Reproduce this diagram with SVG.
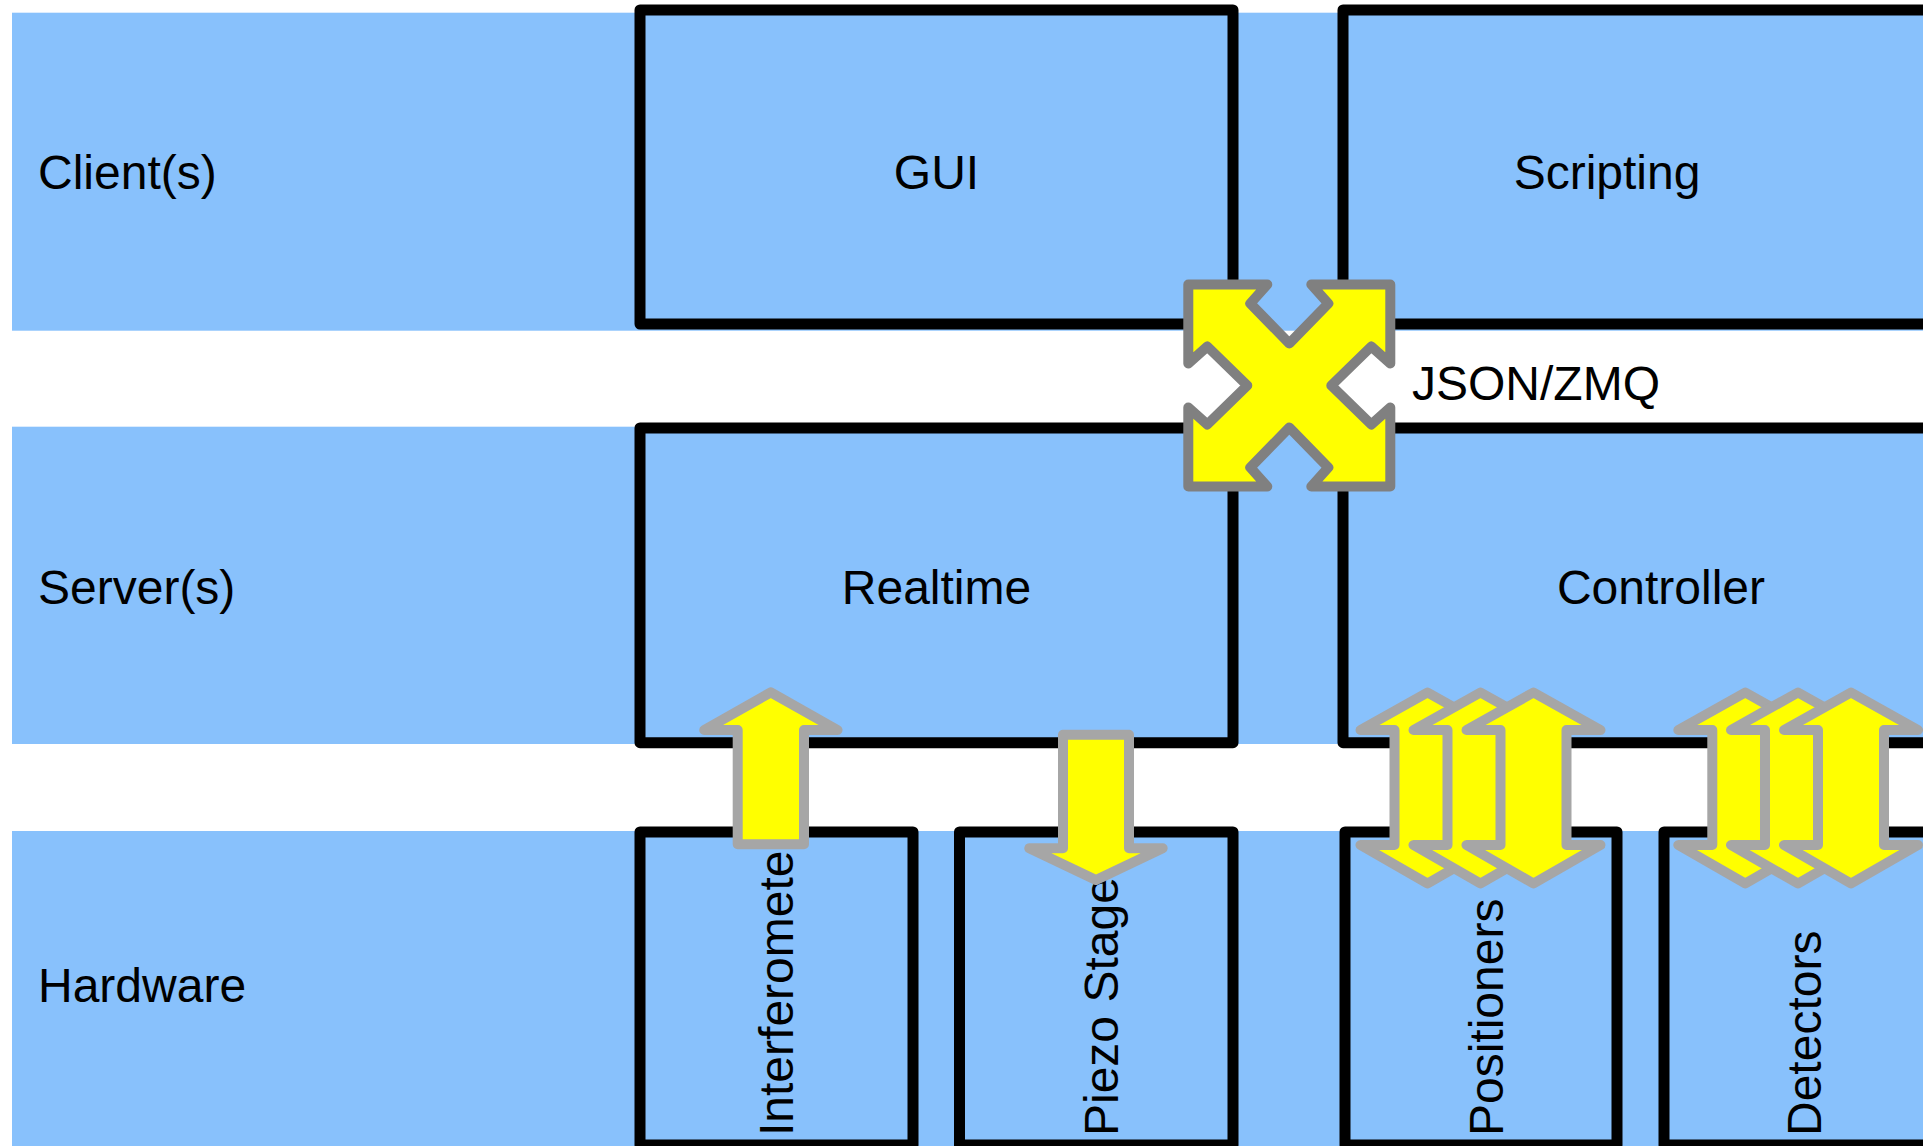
<svg xmlns="http://www.w3.org/2000/svg" xmlns:xlink="http://www.w3.org/1999/xlink" width="1923" height="1146" viewBox="0 0 1923 1146">
<style>
.band{fill:#88c1fc;stroke:none}
.box{fill:#88c1fc;stroke:#000;stroke-width:11;stroke-linejoin:round}
.lbl{font-family:"Liberation Sans",Arial,sans-serif;font-size:48px;fill:#000}
.mid{text-anchor:middle}
.arr{fill:#ffff00;stroke:#a6a6a6;stroke-width:10;stroke-linejoin:round}
.xarr{fill:#ffff00;stroke:#808080;stroke-width:10;stroke-linejoin:round}
</style>
<defs>
<path id="dbl" d="M0,692.5 L67,730 L33,730 L33,845 L67,845 L0,883.5 L-67,845 L-33,845 L-33,730 L-67,730 Z"/>
</defs>
<rect width="1923" height="1146" fill="#fff"/>
<g id="lane-clients">
<rect class="band" x="12" y="12.7" width="1911" height="318"/>
<text class="lbl" x="38" y="189">Client(s)</text>
</g>
<g id="lane-servers">
<rect class="band" x="12" y="426.7" width="1911" height="317.3"/>
<text class="lbl" x="38" y="604">Server(s)</text>
</g>
<g id="lane-hardware">
<rect class="band" x="12" y="831" width="1911" height="320"/>
<text class="lbl" x="38" y="1002">Hardware</text>
</g>
<g id="node-gui">
<rect class="box" x="640" y="10" width="593" height="314"/>
<text class="lbl mid" x="936.5" y="189">GUI</text>
</g>
<g id="node-scripting">
<rect class="box" x="1343" y="10" width="620" height="314"/>
<text class="lbl mid" x="1607" y="189">Scripting</text>
</g>
<g id="node-realtime">
<rect class="box" x="640" y="428" width="593" height="314.7"/>
<text class="lbl mid" x="936.5" y="604">Realtime</text>
</g>
<g id="node-controller">
<rect class="box" x="1343" y="428" width="620" height="314.7"/>
<text class="lbl mid" x="1661" y="604">Controller</text>
</g>
<g id="node-interferometer">
<rect class="box" x="640" y="832" width="273" height="313"/>
<text class="lbl" transform="translate(793,1136) rotate(-90)">Interferometer</text>
</g>
<g id="node-piezo">
<rect class="box" x="959.5" y="832" width="273.5" height="313"/>
<text class="lbl" transform="translate(1118,1136) rotate(-90)">Piezo Stage</text>
</g>
<g id="node-positioners">
<rect class="box" x="1345" y="832" width="272" height="313"/>
<text class="lbl" transform="translate(1503.3,1136) rotate(-90)">Positioners</text>
</g>
<g id="node-detectors">
<rect class="box" x="1664" y="832" width="300" height="313"/>
<text class="lbl" transform="translate(1820.7,1136) rotate(-90)">Detectors</text>
</g>
<g id="connectors">
<path class="xarr" transform="translate(1289.3,385.5)" d="M-101,-101 L-22,-101 L-39,-82 L0,-42 L39,-82 L22,-101 L101,-101 L101,-22 L82,-39 L42,0 L82,39 L101,22 L101,101 L22,101 L39,82 L0,42 L-39,82 L-22,101 L-101,101 L-101,22 L-82,39 L-42,0 L-82,-39 L-101,-22 Z"/>
<text class="lbl" x="1412" y="400">JSON/ZMQ</text>
<path class="arr" d="M770.8,692.3 L837.5,730 L804,730 L804,844.3 L737.7,844.3 L737.7,730 L704.2,730 Z"/>
<path class="arr" d="M1063,734.7 L1129,734.7 L1129,848.3 L1162.7,848.3 L1096,880 L1029.3,848.3 L1063,848.3 Z"/>
<use class="arr" xlink:href="#dbl" href="#dbl" x="1427.5"/>
<use class="arr" xlink:href="#dbl" href="#dbl" x="1480.5"/>
<use class="arr" xlink:href="#dbl" href="#dbl" x="1533.5"/>
<use class="arr" xlink:href="#dbl" href="#dbl" x="1745.3"/>
<use class="arr" xlink:href="#dbl" href="#dbl" x="1798"/>
<use class="arr" xlink:href="#dbl" href="#dbl" x="1851"/>
</g>
</svg>
